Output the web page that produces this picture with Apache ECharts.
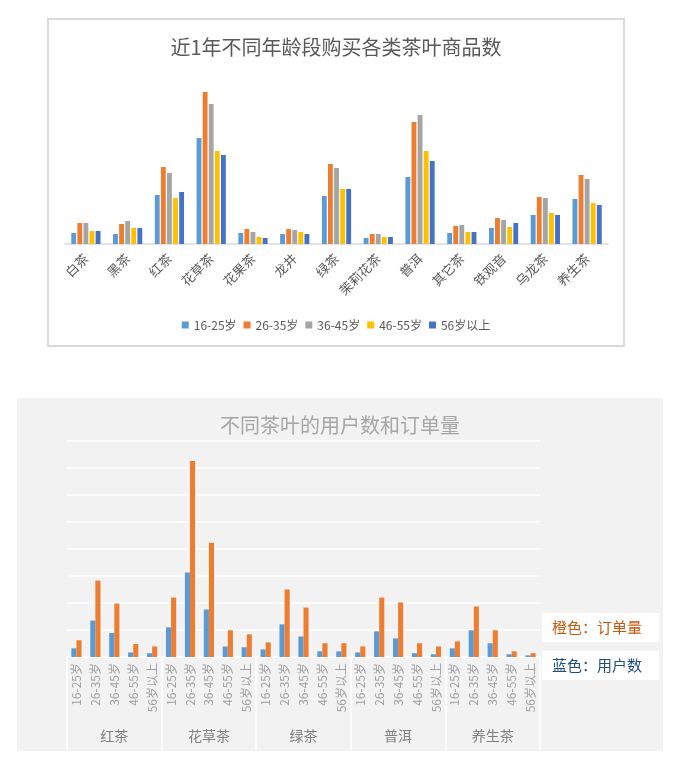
<!DOCTYPE html>
<html>
<head>
<meta charset="utf-8">
<script src="https://cdn.jsdelivr.net/npm/echarts@6/dist/echarts.min.js"></script>
<style>
  body { margin: 0; background: #fff; }
  .box1 { position: absolute; left: 47px; top: 18px; width: 578px; height: 329px;
          box-sizing: border-box; border: 2px solid #d9d9d9; background: #fff; }
  .box2 { position: absolute; left: 17px; top: 398px; width: 646px; height: 353px; background: #f2f2f2; }
</style>
</head>
<body>
<div id="age-bar" class="box1"></div>
<div id="tea-bar" class="box2"></div>
<script>
// top chart
const teaTypes = ["白茶", "黑茶", "红茶", "花草茶", "花果茶", "龙井", "绿茶", "茉莉花茶", "普洱", "其它茶", "铁观音", "乌龙茶", "养生茶"];
const ageGroups = ["16-25岁", "26-35岁", "36-45岁", "46-55岁", "56岁以上"];
const age16_25 = [11, 10, 49, 106, 11, 10, 48, 6, 67, 11, 16, 29, 45];
const age26_35 = [21, 20, 77, 152, 15, 15, 80, 10, 122, 18, 26, 47, 69];
const age36_45 = [21, 23, 71, 140, 12, 14, 76, 10, 129, 19, 24, 46, 65];
const age46_55 = [13, 16, 46, 93, 7, 12, 55, 7, 93, 12, 17, 31, 41];
const age56up = [13, 16, 52, 89, 6, 10, 55, 7, 83, 12, 21, 29, 39];
const ageColors = ["#5b9bd5", "#ed7d31", "#a5a5a5", "#ffc000", "#4472c4"];

// bottom chart
const groupNames = ["红茶", "花草茶", "绿茶", "普洱", "养生茶"];
const userCount = [
  32, 135, 89, 17, 14,
  110, 313, 176, 39, 36,
  28, 121, 76, 21, 21,
  17, 95, 69, 14, 10,
  32, 99, 51, 10, 6
];
const orderCount = [
  62, 283, 198, 48, 39,
  220, 726, 423, 99, 84,
  54, 250, 183, 51, 51,
  39, 220, 202, 51, 39,
  58, 187, 99, 21, 14
];

const font = "'Noto Sans CJK SC', 'Noto Sans', sans-serif";

function drawTop() {
  let bar = echarts.init(document.getElementById("age-bar"));
  let allAges = [age16_25, age26_35, age36_45, age46_55, age56up];
  let option = {
    animation: false,
    textStyle: { fontFamily: font },
    title: {
      text: "近1年不同年龄段购买各类茶叶商品数",
      left: "center",
      top: 12,
      textStyle: { fontSize: 20, fontWeight: "normal", color: "#595959", fontFamily: font }
    },
    legend: {
      data: ageGroups,
      bottom: 9,
      left: "center",
      itemWidth: 7,
      itemHeight: 7,
      itemGap: 7,
      icon: "rect",
      textStyle: { fontSize: 12, color: "#595959" }
    },
    grid: { left: 16, right: 15, top: 64, height: 160 },
    xAxis: {
      type: "category",
      data: teaTypes,
      axisLine: { lineStyle: { color: "#d9d9d9", width: 1.5 } },
      axisTick: { show: false },
      axisLabel: { rotate: 45, interval: 0, fontSize: 13, color: "#595959", margin: 12 }
    },
    yAxis: { type: "value", min: 0, max: 160, show: false, splitLine: { show: false } },
    series: ageGroups.map((name, i) => ({
      name: name,
      type: "bar",
      data: allAges[i],
      barGap: "25%",
      barCategoryGap: "30%",
      itemStyle: { color: ageColors[i] }
    }))
  };
  bar.setOption(option);
}

function drawBottom() {
  let bar = echarts.init(document.getElementById("tea-bar"));
  let subLabels = [];
  groupNames.forEach(() => ageGroups.forEach(a => subLabels.push(a)));
  let option = {
    animation: false,
    textStyle: { fontFamily: font },
    title: {
      text: "不同茶叶的用户数和订单量",
      left: "center",
      top: 12,
      textStyle: { fontSize: 20, fontWeight: "normal", color: "#a6a6a6", fontFamily: font }
    },
    grid: { left: 50, right: 123, top: 43, height: 216 },
    xAxis: [
      {
        type: "category",
        data: subLabels,
        axisLine: { lineStyle: { color: "#ffffff", width: 1 } },
        axisTick: { show: false },
        axisLabel: { rotate: 90, interval: 0, fontSize: 12, color: "#a0a0a0", margin: 6 }
      },
      {
        type: "category",
        data: groupNames,
        position: "bottom",
        axisLine: { show: false },
        axisTick: { show: true, interval: 0, length: 93, lineStyle: { color: "#ffffff", width: 1.5 } },
        axisLabel: { interval: 0, fontSize: 14, color: "#808080", margin: 72 }
      }
    ],
    yAxis: {
      type: "value",
      min: 0,
      max: 800,
      interval: 100,
      axisLabel: { show: false },
      axisLine: { show: false },
      axisTick: { show: false },
      splitLine: { lineStyle: { color: "#ffffff", width: 1.5 } }
    },
    series: [
      {
        name: "用户数",
        type: "bar",
        data: userCount,
        barGap: "0%",
        barCategoryGap: "46%",
        itemStyle: { color: "#5b9bd5" }
      },
      {
        name: "订单量",
        type: "bar",
        data: orderCount,
        itemStyle: { color: "#ed7d31" }
      }
    ],
    graphic: [
      { type: "rect", shape: { x: 525, y: 215, width: 117, height: 29 }, style: { fill: "#ffffff" } },
      { type: "text", x: 535, y: 222, style: { text: "橙色：订单量", font: "15px " + font, fill: "#c55a11" } },
      { type: "rect", shape: { x: 525, y: 253, width: 117, height: 29 }, style: { fill: "#ffffff" } },
      { type: "text", x: 535, y: 260, style: { text: "蓝色：用户数", font: "15px " + font, fill: "#1f4e79" } }
    ]
  };
  bar.setOption(option);
}

drawTop();
drawBottom();
</script>
</body>
</html>
